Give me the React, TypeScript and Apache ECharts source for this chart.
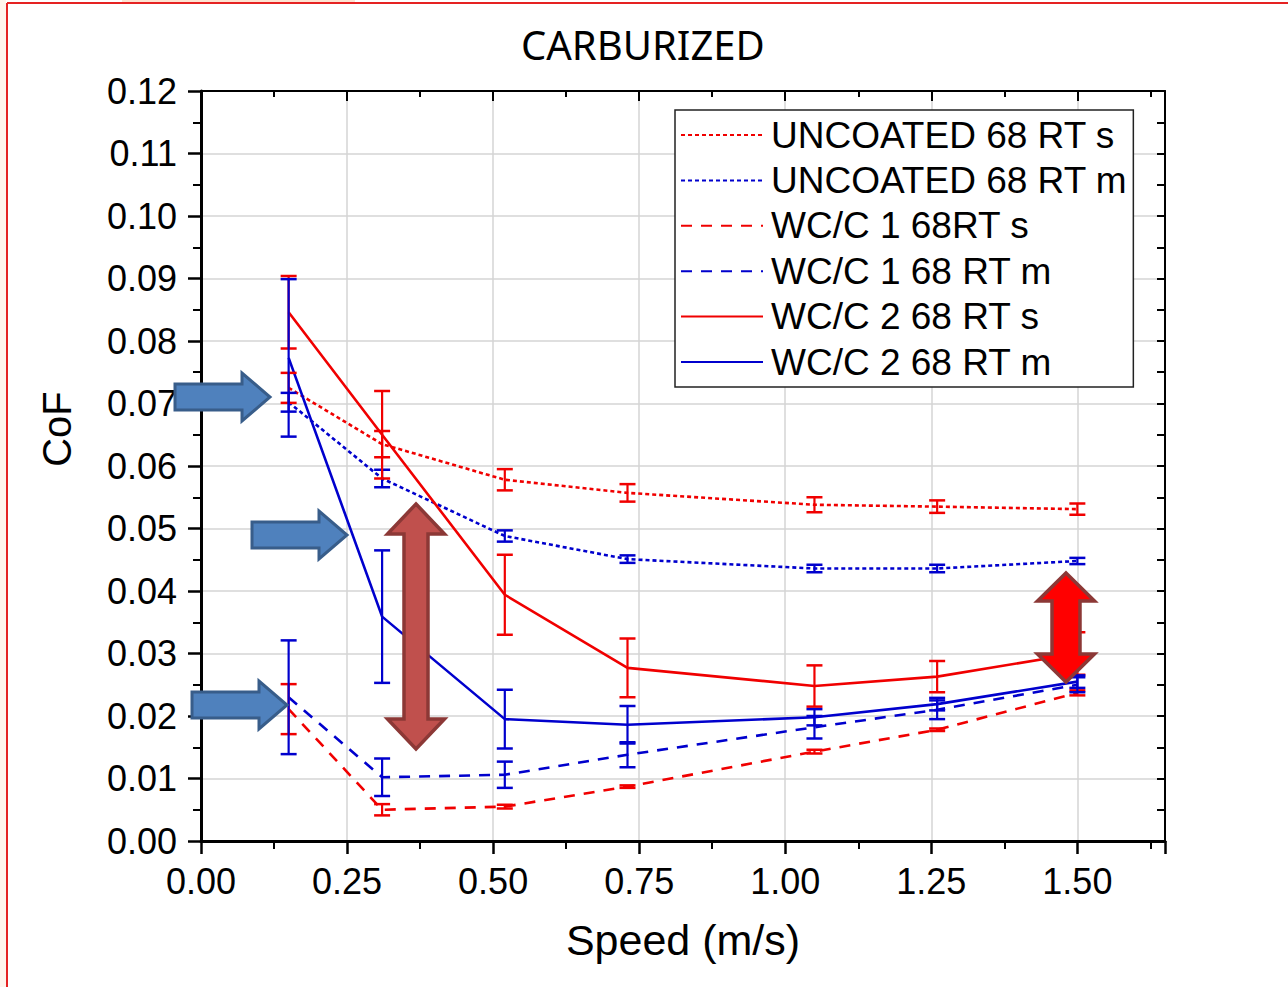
import React, { useEffect, useRef } from "react";
import * as echarts from "echarts";

// ---- data ----
const speeds = [0.15, 0.31, 0.52, 0.73, 1.05, 1.26, 1.5];

const uncoatedS = [0.0725, 0.0635, 0.0578, 0.0557, 0.0538, 0.0535, 0.0531];
const uncoatedSErr = [0.0024, 0.0021, 0.0017, 0.0014, 0.0012, 0.001, 0.0009];
const uncoatedM = [0.0702, 0.058, 0.0488, 0.0451, 0.0436, 0.0436, 0.0448];
const uncoatedMErr = [0.0015, 0.0014, 0.0009, 0.0006, 0.0006, 0.0006, 0.0005];
const wcc1S = [0.0211, 0.005, 0.0055, 0.0087, 0.0143, 0.0178, 0.0237];
const wcc1SErr = [0.004, 0.0009, 0.0003, 0.0002, 0.0003, 0.0002, 0.0004];
const wcc1M = [0.023, 0.0102, 0.0106, 0.0138, 0.0182, 0.021, 0.025];
const wcc1MErr = [0.0091, 0.003, 0.0021, 0.002, 0.0018, 0.0015, 0.0012];
const wcc2S = [0.0846, 0.065, 0.0394, 0.0277, 0.0248, 0.0263, 0.03];
const wcc2SErr = [0.0058, 0.007, 0.0064, 0.0047, 0.0033, 0.0025, 0.0034];
const wcc2M = [0.0773, 0.0359, 0.0195, 0.0186, 0.0198, 0.0219, 0.0255];
const wcc2MErr = [0.0126, 0.0106, 0.0047, 0.003, 0.0013, 0.001, 0.001];

const seriesNames = [
  "UNCOATED 68 RT s",
  "UNCOATED 68 RT m",
  "WC/C 1 68RT s",
  "WC/C 1 68 RT m",
  "WC/C 2 68 RT s",
  "WC/C 2 68 RT m",
];

const RED = "#f00000";
const BLUE = "#0000cd";
const FONT = "'Liberation Sans', Arial, sans-serif";

function errRender(color: string) {
  return (params: any, api: any) => {
    const x = api.value(0);
    const lo = api.value(1);
    const hi = api.value(2);
    const top = api.coord([x, hi]);
    const bot = api.coord([x, lo]);
    const w = 8;
    return {
      type: "group",
      children: [
        { type: "line", shape: { x1: top[0], y1: top[1], x2: bot[0], y2: bot[1] }, style: { stroke: color, lineWidth: 2.2 } },
        { type: "line", shape: { x1: top[0] - w, y1: top[1], x2: top[0] + w, y2: top[1] }, style: { stroke: color, lineWidth: 2.5 } },
        { type: "line", shape: { x1: bot[0] - w, y1: bot[1], x2: bot[0] + w, y2: bot[1] }, style: { stroke: color, lineWidth: 2.5 } },
      ],
    };
  };
}

function lineSeries(name: string, vals: number[], color: string, type: any) {
  return {
    name,
    type: "line",
    data: speeds.map((s, i) => [s, vals[i]]),
    symbol: "none",
    showSymbol: false,
    lineStyle: { color, width: 2.6, type },
    itemStyle: { color },
    z: 3,
  };
}

function errSeries(vals: number[], errs: number[], color: string) {
  return {
    type: "custom",
    renderItem: errRender(color),
    data: speeds.map((s, i) => [s, vals[i] - errs[i], vals[i] + errs[i]]),
    encode: { x: 0, y: [1, 2] },
    z: 4,
    silent: true,
  };
}

function rightArrow(tipX: number, tipY: number) {
  const bodyH = 26, headH = 48, headL = 28, len = 95;
  const bx = tipX - len, hx = tipX - headL;
  return {
    type: "polygon",
    shape: {
      points: [
        [bx, tipY - bodyH / 2],
        [hx, tipY - bodyH / 2],
        [hx, tipY - headH / 2],
        [tipX, tipY],
        [hx, tipY + headH / 2],
        [hx, tipY + bodyH / 2],
        [bx, tipY + bodyH / 2],
      ],
    },
    style: { fill: "#4f81bd", stroke: "#385d8a", lineWidth: 3 },
    z: 100,
  };
}

function doubleArrow(cx: number, topY: number, botY: number, headW: number, shaftW: number, headL: number, fill: string) {
  return {
    type: "polygon",
    shape: {
      points: [
        [cx, topY],
        [cx + headW / 2, topY + headL],
        [cx + shaftW / 2, topY + headL],
        [cx + shaftW / 2, botY - headL],
        [cx + headW / 2, botY - headL],
        [cx, botY],
        [cx - headW / 2, botY - headL],
        [cx - shaftW / 2, botY - headL],
        [cx - shaftW / 2, topY + headL],
        [cx - headW / 2, topY + headL],
      ],
    },
    style: { fill, stroke: "#8c3836", lineWidth: 3.5 },
    z: 100,
  };
}

export default function App() {
  const ref = useRef<HTMLDivElement>(null);

  useEffect(() => {
    if (!ref.current) return;
    const chart = echarts.init(ref.current, undefined, { renderer: "svg" });
    const axisLabelStyle = { fontFamily: FONT, fontSize: 36, color: "#000" };
    const option: any = {
      animation: false,
      backgroundColor: "#ffffff",
      title: {
        text: "CARBURIZED",
        left: 516,
        top: 19,
        textStyle: { fontFamily: "'Noto Sans', sans-serif", fontSize: 40, fontWeight: "normal", color: "#000" },
      },
      grid: { left: 201, top: 91, width: 964, height: 750, containLabel: false },
      legend: {
        data: seriesNames,
        orient: "vertical",
        left: 675,
        top: 110,
        padding: [5, 6, 5, 5],
        itemWidth: 82,
        itemHeight: 14,
        itemGap: 5.4,
        borderColor: "#222",
        borderWidth: 1.5,
        backgroundColor: "#fff",
        itemStyle: { opacity: 0, borderWidth: 0 },
        textStyle: { fontFamily: FONT, fontSize: 37, color: "#000", lineHeight: 40, padding: [0, 0, 0, 3] },
      },
      xAxis: [
        {
          type: "value",
          min: 0,
          max: 1.65,
          interval: 0.25,
          name: "Speed (m/s)",
          nameLocation: "middle",
          nameGap: 77,
          nameTextStyle: { fontFamily: FONT, fontSize: 43, color: "#000" },
          axisLine: { show: true, onZero: false, lineStyle: { color: "#000", width: 3 } },
          axisTick: { show: true, length: 13, lineStyle: { color: "#000", width: 2.5 } },
          minorTick: { show: true, splitNumber: 2, length: 8, lineStyle: { color: "#000", width: 2 } },
          axisLabel: {
            ...axisLabelStyle,
            margin: 22,
            formatter: (v: number) => (Math.abs(v / 0.25 - Math.round(v / 0.25)) < 1e-6 ? v.toFixed(2) : ""),
          },
          splitLine: { show: true, lineStyle: { color: "#d4d4d4", width: 1.5 } },
        },
        {
          type: "value",
          position: "top",
          min: 0,
          max: 1.65,
          interval: 0.25,
          axisLine: { show: true, onZero: false, lineStyle: { color: "#000", width: 2 } },
          axisTick: { show: true, inside: true, length: 10, lineStyle: { color: "#000", width: 2 } },
          minorTick: { show: true, splitNumber: 2, length: 6, lineStyle: { color: "#000", width: 2 } },
          axisLabel: { show: false },
          splitLine: { show: false },
        },
      ],
      yAxis: [
        {
          type: "value",
          min: 0,
          max: 0.12,
          interval: 0.01,
          name: "CoF",
          nameLocation: "middle",
          nameGap: 124,
          nameRotate: 90,
          nameTextStyle: { fontFamily: FONT, fontSize: 40, color: "#000", padding: [0, 0, 0, 74] },
          axisLine: { show: true, onZero: false, lineStyle: { color: "#000", width: 3 } },
          axisTick: { show: true, length: 13, lineStyle: { color: "#000", width: 2.5 } },
          minorTick: { show: true, splitNumber: 2, length: 8, lineStyle: { color: "#000", width: 2 } },
          axisLabel: { ...axisLabelStyle, margin: 24, formatter: (v: number) => v.toFixed(2) },
          splitLine: { show: true, lineStyle: { color: "#d4d4d4", width: 1.5 } },
        },
        {
          type: "value",
          position: "right",
          min: 0,
          max: 0.12,
          interval: 0.01,
          axisLine: { show: true, onZero: false, lineStyle: { color: "#000", width: 2 } },
          axisTick: { show: true, inside: true, length: 8, lineStyle: { color: "#000", width: 2 } },
          minorTick: { show: true, splitNumber: 2, length: 8, lineStyle: { color: "#000", width: 2 } },
          axisLabel: { show: false },
          splitLine: { show: false },
        },
      ],
      series: [
        lineSeries(seriesNames[0], uncoatedS, RED, [4, 3]),
        lineSeries(seriesNames[1], uncoatedM, BLUE, [4, 3]),
        lineSeries(seriesNames[2], wcc1S, RED, [11, 9]),
        lineSeries(seriesNames[3], wcc1M, BLUE, [11, 9]),
        lineSeries(seriesNames[4], wcc2S, RED, "solid"),
        lineSeries(seriesNames[5], wcc2M, BLUE, "solid"),
        errSeries(uncoatedS, uncoatedSErr, RED),
        errSeries(uncoatedM, uncoatedMErr, BLUE),
        errSeries(wcc1S, wcc1SErr, RED),
        errSeries(wcc1M, wcc1MErr, BLUE),
        errSeries(wcc2S, wcc2SErr, RED),
        errSeries(wcc2M, wcc2MErr, BLUE),
      ],
      graphic: [
        { type: "rect", shape: { x: 0, y: 0, width: 6, height: 987 }, style: { fill: "#fff4ec" }, z: 1 },
        { type: "rect", shape: { x: 122, y: 0, width: 233, height: 3 }, style: { fill: "#fde3d2" }, z: 1 },
        { type: "line", shape: { x1: 7, y1: 3, x2: 7, y2: 987 }, style: { stroke: "#e52222", lineWidth: 2 }, z: 1 },
        { type: "line", shape: { x1: 7, y1: 3, x2: 1288, y2: 3 }, style: { stroke: "#e52222", lineWidth: 2 }, z: 1 },
        rightArrow(270, 397),
        rightArrow(347, 535),
        rightArrow(287, 705),
        doubleArrow(416, 504, 749, 57, 24, 30, "#c0504d"),
        doubleArrow(1066, 573, 682, 57, 28, 28, "#ff0000"),
      ],
    };
    chart.setOption(option);
    return () => chart.dispose();
  }, []);

  return (
    <div
      ref={ref}
      style={{ position: "absolute", left: 0, top: 0, width: 1288, height: 987 }}
    />
  );
}
